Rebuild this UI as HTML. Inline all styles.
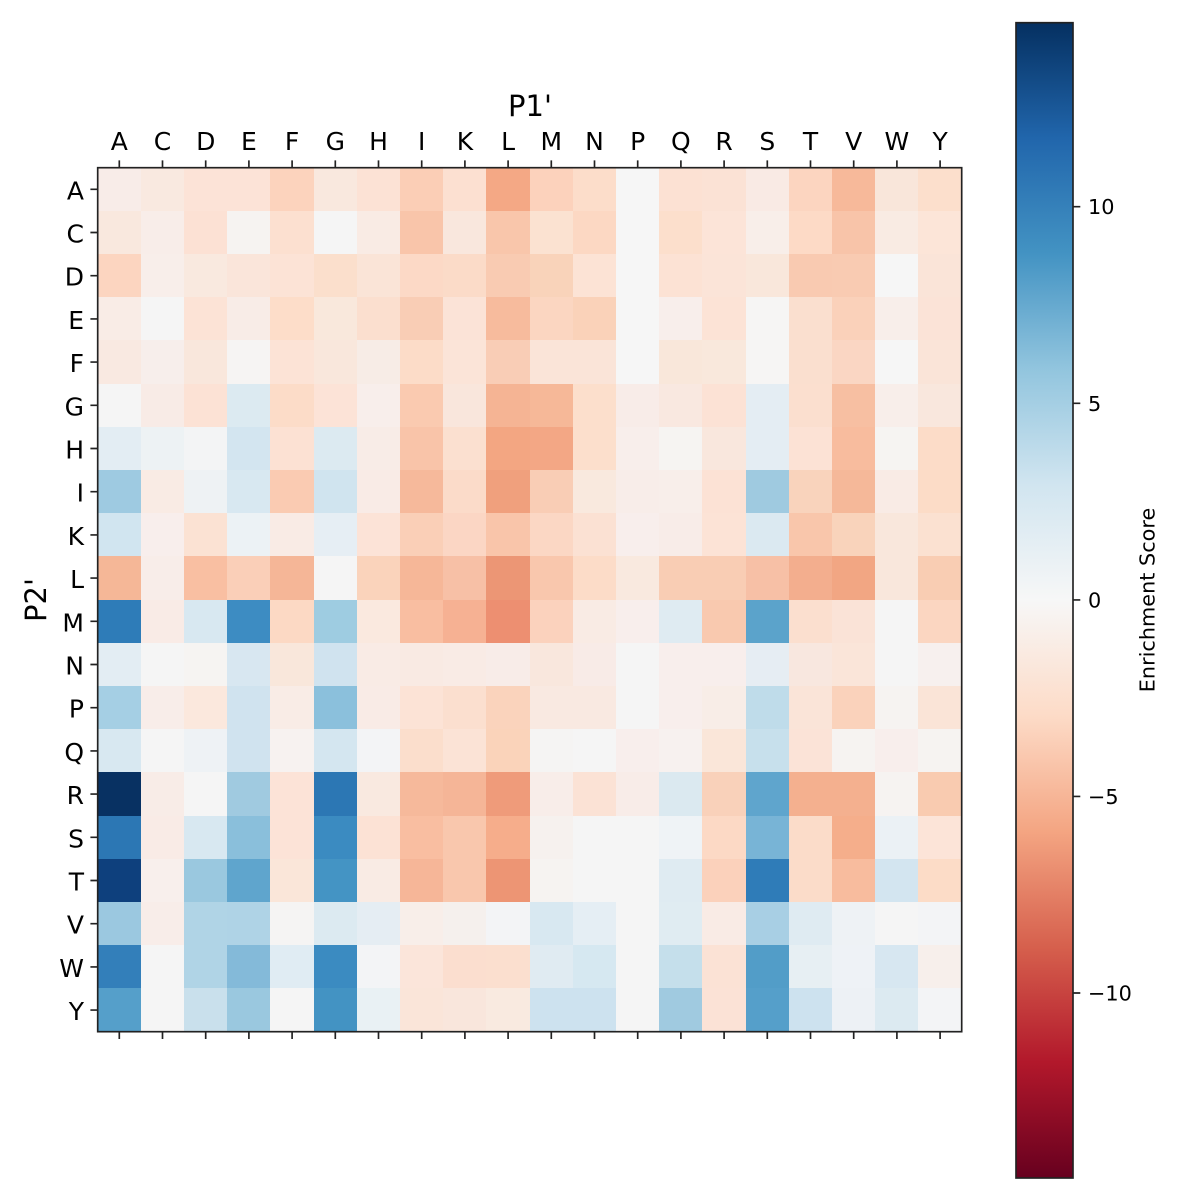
<!DOCTYPE html>
<html><head><meta charset="utf-8"><style>
html,body{margin:0;padding:0;background:#fff}
body{width:1200px;height:1200px;position:relative;overflow:hidden}
#g{position:absolute;left:97.7px;top:167.7px;width:864px;height:864px;display:grid;grid-template-columns:repeat(20,1fr);grid-template-rows:repeat(20,1fr)}
#g i{display:block}
#cb{position:absolute;left:1016px;top:22.7px;width:57px;height:1155.3px;background:linear-gradient(to top,#67001f 0%,#b2182b 10%,#d6604d 20%,#f4a582 30%,#fddbc7 40%,#f7f7f7 50%,#d1e5f0 60%,#92c5de 70%,#4393c3 80%,#2166ac 90%,#053061 100%)}
svg{position:absolute;left:0;top:0}
text{font-family:"DejaVu Sans","Liberation Sans",sans-serif;fill:#000}
</style></head><body>
<div id="g">
<i style="background:#f8ece8"></i><i style="background:#f9e9e0"></i><i style="background:#fce3d7"></i><i style="background:#fce3d7"></i><i style="background:#fcd3bd"></i><i style="background:#f9e8de"></i><i style="background:#fce2d5"></i><i style="background:#fbceb6"></i><i style="background:#fce0d1"></i><i style="background:#f4a885"></i><i style="background:#fcd2bc"></i><i style="background:#fcddca"></i><i style="background:#f6f6f6"></i><i style="background:#fce1d3"></i><i style="background:#fbe2d5"></i><i style="background:#f9eae4"></i><i style="background:#fcd5c0"></i><i style="background:#f7b99a"></i><i style="background:#f9e6da"></i><i style="background:#fcdfcc"></i>
<i style="background:#f9e8de"></i><i style="background:#f8ede9"></i><i style="background:#fce1d4"></i><i style="background:#f6f3f1"></i><i style="background:#fce0d0"></i><i style="background:#f5f5f5"></i><i style="background:#f9ebe4"></i><i style="background:#f9c5aa"></i><i style="background:#f9e7dd"></i><i style="background:#f9c6ab"></i><i style="background:#fbe2d1"></i><i style="background:#fcd8c3"></i><i style="background:#f6f6f6"></i><i style="background:#fcdfcc"></i><i style="background:#fce4d8"></i><i style="background:#f8eee9"></i><i style="background:#fddac6"></i><i style="background:#f8c4a9"></i><i style="background:#f9ebe3"></i><i style="background:#fce5d8"></i>
<i style="background:#fcd5c0"></i><i style="background:#f8eeea"></i><i style="background:#f9e9df"></i><i style="background:#fae5da"></i><i style="background:#fce3d6"></i><i style="background:#fbdfcc"></i><i style="background:#fae4d7"></i><i style="background:#fcd9c6"></i><i style="background:#fbdbc8"></i><i style="background:#f9cbb2"></i><i style="background:#f9d3ba"></i><i style="background:#fce3d5"></i><i style="background:#f6f6f6"></i><i style="background:#fce2d4"></i><i style="background:#fbe4d8"></i><i style="background:#f9e7db"></i><i style="background:#f9cab1"></i><i style="background:#f9cbb2"></i><i style="background:#f6f6f6"></i><i style="background:#fae4d8"></i>
<i style="background:#f9ece6"></i><i style="background:#f5f5f5"></i><i style="background:#fce3d6"></i><i style="background:#f8ece7"></i><i style="background:#fdddc9"></i><i style="background:#f9e8dc"></i><i style="background:#fbdfcf"></i><i style="background:#f9cdb5"></i><i style="background:#fbe3d7"></i><i style="background:#f7bb9d"></i><i style="background:#fbd6c1"></i><i style="background:#fad2b9"></i><i style="background:#f6f6f6"></i><i style="background:#f8eeeb"></i><i style="background:#fce3d6"></i><i style="background:#f6f5f4"></i><i style="background:#fadfcf"></i><i style="background:#fad1ba"></i><i style="background:#f8eeea"></i><i style="background:#fbe3d7"></i>
<i style="background:#f9e9e1"></i><i style="background:#f7eeeb"></i><i style="background:#f9e7dc"></i><i style="background:#f6f4f3"></i><i style="background:#fce3d6"></i><i style="background:#f9e7dc"></i><i style="background:#f7ece6"></i><i style="background:#fcdcc8"></i><i style="background:#fbe4d8"></i><i style="background:#f9cdb6"></i><i style="background:#fae4d8"></i><i style="background:#fae4d8"></i><i style="background:#f6f6f6"></i><i style="background:#f9e7da"></i><i style="background:#f9e8dc"></i><i style="background:#f6f5f4"></i><i style="background:#fadfcf"></i><i style="background:#fad6c3"></i><i style="background:#f6f6f6"></i><i style="background:#fae4d8"></i>
<i style="background:#f5f5f5"></i><i style="background:#f8ebe6"></i><i style="background:#fce2d5"></i><i style="background:#dceaf1"></i><i style="background:#fcdcc8"></i><i style="background:#fce3d7"></i><i style="background:#f8eeeb"></i><i style="background:#facab0"></i><i style="background:#f9e6dc"></i><i style="background:#f5b494"></i><i style="background:#f6b898"></i><i style="background:#fcdfcc"></i><i style="background:#f8ece8"></i><i style="background:#f9e8e0"></i><i style="background:#fce2d5"></i><i style="background:#e4edf3"></i><i style="background:#fbdfcf"></i><i style="background:#f7bfa2"></i><i style="background:#f8eeea"></i><i style="background:#f9e7dd"></i>
<i style="background:#e3edf3"></i><i style="background:#edf2f4"></i><i style="background:#f3f4f5"></i><i style="background:#d3e5f0"></i><i style="background:#fce1d3"></i><i style="background:#dceaf1"></i><i style="background:#f8ece7"></i><i style="background:#f9c4a9"></i><i style="background:#fbe0d0"></i><i style="background:#f3a682"></i><i style="background:#f3a785"></i><i style="background:#fcdfcc"></i><i style="background:#f8eeeb"></i><i style="background:#f6f4f2"></i><i style="background:#f9e7dd"></i><i style="background:#e4edf3"></i><i style="background:#fce2d5"></i><i style="background:#f8bc9e"></i><i style="background:#f6f4f2"></i><i style="background:#fcdcc8"></i>
<i style="background:#9ecae1"></i><i style="background:#f9ebe4"></i><i style="background:#eef2f4"></i><i style="background:#d8e8f1"></i><i style="background:#facbb2"></i><i style="background:#d0e4ef"></i><i style="background:#f9ebe6"></i><i style="background:#f6b99b"></i><i style="background:#fbdbc9"></i><i style="background:#f0a07d"></i><i style="background:#f9cdb5"></i><i style="background:#f9e9de"></i><i style="background:#f8ede9"></i><i style="background:#f8eeea"></i><i style="background:#fce2d5"></i><i style="background:#9fcae0"></i><i style="background:#f9d3bc"></i><i style="background:#f5b899"></i><i style="background:#f9ebe5"></i><i style="background:#fcdcc7"></i>
<i style="background:#d1e5f0"></i><i style="background:#f8eeec"></i><i style="background:#fbe2d3"></i><i style="background:#ecf2f5"></i><i style="background:#f9ebe5"></i><i style="background:#e6eef4"></i><i style="background:#fce3d7"></i><i style="background:#facfb7"></i><i style="background:#fbd6c4"></i><i style="background:#f9c5aa"></i><i style="background:#fbd7c4"></i><i style="background:#fbe1d3"></i><i style="background:#f8eeec"></i><i style="background:#f8ece8"></i><i style="background:#fce3d6"></i><i style="background:#dbe9f1"></i><i style="background:#f9c6ab"></i><i style="background:#f9d3bb"></i><i style="background:#f9e7dc"></i><i style="background:#fbe1d1"></i>
<i style="background:#f5b797"></i><i style="background:#f8ede9"></i><i style="background:#f9bfa2"></i><i style="background:#facfb8"></i><i style="background:#f5b697"></i><i style="background:#f5f5f5"></i><i style="background:#fad3bb"></i><i style="background:#f6b798"></i><i style="background:#f7c0a6"></i><i style="background:#ec9675"></i><i style="background:#f9c7ad"></i><i style="background:#fcdcc8"></i><i style="background:#f9e9df"></i><i style="background:#f9cdb4"></i><i style="background:#f9cdb4"></i><i style="background:#f7c0a6"></i><i style="background:#f3ae8e"></i><i style="background:#f2a683"></i><i style="background:#f9e7dc"></i><i style="background:#f9cdb3"></i>
<i style="background:#2e7cb8"></i><i style="background:#f9ebe6"></i><i style="background:#d8e8f1"></i><i style="background:#3d8cc2"></i><i style="background:#fcd9c4"></i><i style="background:#9ecce1"></i><i style="background:#fae9df"></i><i style="background:#f9bea1"></i><i style="background:#f6b193"></i><i style="background:#ed8f71"></i><i style="background:#fbd2bd"></i><i style="background:#f9ebe4"></i><i style="background:#f8eeec"></i><i style="background:#dfebf2"></i><i style="background:#f9c9af"></i><i style="background:#5ba3cb"></i><i style="background:#fbdfcf"></i><i style="background:#fae3d7"></i><i style="background:#f5f5f5"></i><i style="background:#fbd6c1"></i>
<i style="background:#e3edf3"></i><i style="background:#f5f5f5"></i><i style="background:#f6f4f2"></i><i style="background:#d8e7f1"></i><i style="background:#f9e7db"></i><i style="background:#d0e3ef"></i><i style="background:#f9ebe5"></i><i style="background:#f9eae3"></i><i style="background:#f9ebe5"></i><i style="background:#f8ece8"></i><i style="background:#f9e7dd"></i><i style="background:#f8ebe7"></i><i style="background:#f5f5f5"></i><i style="background:#f8eeec"></i><i style="background:#f8eeec"></i><i style="background:#e6edf3"></i><i style="background:#f8e7df"></i><i style="background:#fae5d9"></i><i style="background:#f5f5f5"></i><i style="background:#f7f0ee"></i>
<i style="background:#a5cfe4"></i><i style="background:#f8ede9"></i><i style="background:#fbe8dd"></i><i style="background:#d0e3ef"></i><i style="background:#f9ece6"></i><i style="background:#8bc0dc"></i><i style="background:#f9ebe6"></i><i style="background:#fce3d6"></i><i style="background:#fbdfcf"></i><i style="background:#fad3bc"></i><i style="background:#f9e9e1"></i><i style="background:#f9e9e1"></i><i style="background:#f5f5f5"></i><i style="background:#f8eeec"></i><i style="background:#f8ede7"></i><i style="background:#bfdcea"></i><i style="background:#fae4d8"></i><i style="background:#fad2bb"></i><i style="background:#f6f3f1"></i><i style="background:#fae4d7"></i>
<i style="background:#d8e8f1"></i><i style="background:#f5f5f5"></i><i style="background:#eef2f5"></i><i style="background:#d0e3ef"></i><i style="background:#f7f2f0"></i><i style="background:#d4e6f0"></i><i style="background:#f3f4f6"></i><i style="background:#fbdecc"></i><i style="background:#fbe3d6"></i><i style="background:#fad3ba"></i><i style="background:#f5f4f3"></i><i style="background:#f5f5f5"></i><i style="background:#f8eeec"></i><i style="background:#f7f1ef"></i><i style="background:#fae6d9"></i><i style="background:#c7e0ec"></i><i style="background:#fbe3d7"></i><i style="background:#f6f3f1"></i><i style="background:#f8eeec"></i><i style="background:#f6f3f1"></i>
<i style="background:#083162"></i><i style="background:#f8ece7"></i><i style="background:#f5f5f5"></i><i style="background:#a0cae0"></i><i style="background:#fce3d7"></i><i style="background:#2c77b4"></i><i style="background:#f9e9e0"></i><i style="background:#f6b99b"></i><i style="background:#f5b597"></i><i style="background:#ef9b7a"></i><i style="background:#f8ede9"></i><i style="background:#fbe2d5"></i><i style="background:#f8ece8"></i><i style="background:#dbe9f0"></i><i style="background:#f9d1ba"></i><i style="background:#5fa5cd"></i><i style="background:#f4b08f"></i><i style="background:#f4b08f"></i><i style="background:#f6f3f1"></i><i style="background:#f9cbb0"></i>
<i style="background:#2c77b4"></i><i style="background:#f9ebe6"></i><i style="background:#d8e8f1"></i><i style="background:#8abfdb"></i><i style="background:#fce3d7"></i><i style="background:#3b8bc1"></i><i style="background:#fce2d5"></i><i style="background:#f9bea1"></i><i style="background:#f9c7ad"></i><i style="background:#f6ad8b"></i><i style="background:#f6f1ee"></i><i style="background:#f5f5f5"></i><i style="background:#f5f5f5"></i><i style="background:#eff3f6"></i><i style="background:#fcd9c5"></i><i style="background:#78b4d6"></i><i style="background:#fbdcc9"></i><i style="background:#f5ae8b"></i><i style="background:#ebf1f5"></i><i style="background:#fce4d8"></i>
<i style="background:#0e407d"></i><i style="background:#f8efec"></i><i style="background:#9ac8df"></i><i style="background:#5fa5cd"></i><i style="background:#fae6d9"></i><i style="background:#4494c4"></i><i style="background:#f9ebe4"></i><i style="background:#f6b698"></i><i style="background:#f9c7ad"></i><i style="background:#ed9574"></i><i style="background:#f6f3f1"></i><i style="background:#f5f5f5"></i><i style="background:#f5f5f5"></i><i style="background:#dfebf2"></i><i style="background:#fbd1bb"></i><i style="background:#2f7cb8"></i><i style="background:#fbdcc9"></i><i style="background:#f8bc9e"></i><i style="background:#d3e5f0"></i><i style="background:#fcdcc7"></i>
<i style="background:#9bc8e0"></i><i style="background:#f8ede9"></i><i style="background:#b0d4e6"></i><i style="background:#afd3e6"></i><i style="background:#f5f4f3"></i><i style="background:#dceaf1"></i><i style="background:#e5edf3"></i><i style="background:#f8eee9"></i><i style="background:#f5f0ed"></i><i style="background:#f3f4f6"></i><i style="background:#d8e8f1"></i><i style="background:#e5eef4"></i><i style="background:#f5f5f5"></i><i style="background:#e0ecf2"></i><i style="background:#f9ebe5"></i><i style="background:#a8cfe4"></i><i style="background:#dfebf2"></i><i style="background:#eef2f5"></i><i style="background:#f5f5f5"></i><i style="background:#f3f4f6"></i>
<i style="background:#337fba"></i><i style="background:#f5f5f5"></i><i style="background:#b0d4e6"></i><i style="background:#84bad9"></i><i style="background:#e0ecf3"></i><i style="background:#3b8bc1"></i><i style="background:#f3f4f6"></i><i style="background:#fbe5da"></i><i style="background:#fbdecf"></i><i style="background:#fbdfcf"></i><i style="background:#e0ebf2"></i><i style="background:#d6e8f1"></i><i style="background:#f5f5f5"></i><i style="background:#c5dfeb"></i><i style="background:#fbe2d5"></i><i style="background:#529dc8"></i><i style="background:#e7eff3"></i><i style="background:#eef2f6"></i><i style="background:#d7e7f1"></i><i style="background:#f7efeb"></i>
<i style="background:#559fca"></i><i style="background:#f5f5f5"></i><i style="background:#c9e0ec"></i><i style="background:#9ac8df"></i><i style="background:#f5f5f5"></i><i style="background:#4393c3"></i><i style="background:#e9f1f4"></i><i style="background:#fae5d9"></i><i style="background:#f9e6dc"></i><i style="background:#f9eae0"></i><i style="background:#cde2ef"></i><i style="background:#cde2ef"></i><i style="background:#f5f5f5"></i><i style="background:#a0cae0"></i><i style="background:#fbe2d6"></i><i style="background:#559fca"></i><i style="background:#cde2ef"></i><i style="background:#edf1f5"></i><i style="background:#dceaf1"></i><i style="background:#f3f4f6"></i>
</div>
<div id="cb"></div>
<svg width="1200" height="1200" viewBox="0 0 1200 1200" xmlns="http://www.w3.org/2000/svg">
<rect x="97.7" y="167.7" width="864" height="864" fill="none" stroke="#222" stroke-width="1.67"/>
<rect x="1016" y="22.7" width="57" height="1155.3" fill="none" stroke="#222" stroke-width="1.67"/>
<path stroke="#222" stroke-width="1.67" fill="none" d="
M119.3 167.7v-7.3M162.5 167.7v-7.3M205.7 167.7v-7.3M248.9 167.7v-7.3M292.1 167.7v-7.3M335.3 167.7v-7.3M378.5 167.7v-7.3M421.7 167.7v-7.3M464.9 167.7v-7.3M508.1 167.7v-7.3M551.3 167.7v-7.3M594.5 167.7v-7.3M637.7 167.7v-7.3M680.9 167.7v-7.3M724.1 167.7v-7.3M767.3 167.7v-7.3M810.5 167.7v-7.3M853.7 167.7v-7.3M896.9 167.7v-7.3M940.1 167.7v-7.3
M119.3 1031.7v7.3M162.5 1031.7v7.3M205.7 1031.7v7.3M248.9 1031.7v7.3M292.1 1031.7v7.3M335.3 1031.7v7.3M378.5 1031.7v7.3M421.7 1031.7v7.3M464.9 1031.7v7.3M508.1 1031.7v7.3M551.3 1031.7v7.3M594.5 1031.7v7.3M637.7 1031.7v7.3M680.9 1031.7v7.3M724.1 1031.7v7.3M767.3 1031.7v7.3M810.5 1031.7v7.3M853.7 1031.7v7.3M896.9 1031.7v7.3M940.1 1031.7v7.3
M97.7 189.3h-7.3M97.7 232.5h-7.3M97.7 275.7h-7.3M97.7 318.9h-7.3M97.7 362.1h-7.3M97.7 405.3h-7.3M97.7 448.5h-7.3M97.7 491.7h-7.3M97.7 534.9h-7.3M97.7 578.1h-7.3M97.7 621.3h-7.3M97.7 664.5h-7.3M97.7 707.7h-7.3M97.7 750.9h-7.3M97.7 794.1h-7.3M97.7 837.3h-7.3M97.7 880.5h-7.3M97.7 923.7h-7.3M97.7 966.9h-7.3M97.7 1010.1h-7.3
M1073 206.7h7.3M1073 403.3h7.3M1073 599.9h7.3M1073 796.4h7.3M1073 993h7.3"/>
<g font-size="25" text-anchor="middle">
<text x="119.3" y="150">A</text><text x="162.5" y="150">C</text><text x="205.7" y="150">D</text><text x="248.9" y="150">E</text><text x="292.1" y="150">F</text><text x="335.3" y="150">G</text><text x="378.5" y="150">H</text><text x="421.7" y="150">I</text><text x="464.9" y="150">K</text><text x="508.1" y="150">L</text><text x="551.3" y="150">M</text><text x="594.5" y="150">N</text><text x="637.7" y="150">P</text><text x="680.9" y="150">Q</text><text x="724.1" y="150">R</text><text x="767.3" y="150">S</text><text x="810.5" y="150">T</text><text x="853.7" y="150">V</text><text x="896.9" y="150">W</text><text x="940.1" y="150">Y</text>
</g>
<g font-size="25" text-anchor="end">
<text x="84" y="199.3">A</text><text x="84" y="242.5">C</text><text x="84" y="285.7">D</text><text x="84" y="328.9">E</text><text x="84" y="372.1">F</text><text x="84" y="415.3">G</text><text x="84" y="458.5">H</text><text x="84" y="501.7">I</text><text x="84" y="544.9">K</text><text x="84" y="588.1">L</text><text x="84" y="631.3">M</text><text x="84" y="674.5">N</text><text x="84" y="717.7">P</text><text x="84" y="760.9">Q</text><text x="84" y="804.1">R</text><text x="84" y="847.3">S</text><text x="84" y="890.5">T</text><text x="84" y="933.7">V</text><text x="84" y="976.9">W</text><text x="84" y="1020.1">Y</text>
</g>
<text x="530" y="116" font-size="29" text-anchor="middle">P1'</text>
<text transform="translate(46,600) rotate(-90)" font-size="29" text-anchor="middle">P2'</text>
<g font-size="20.8">
<text x="1088" y="214.2">10</text>
<text x="1088" y="410.8">5</text>
<text x="1088" y="607.4">0</text>
<text x="1088" y="803.9">−5</text>
<text x="1088" y="1000.5">−10</text>
</g>
<text transform="translate(1154.5,600) rotate(-90)" font-size="20.8" text-anchor="middle">Enrichment Score</text>
</svg>
</body></html>
